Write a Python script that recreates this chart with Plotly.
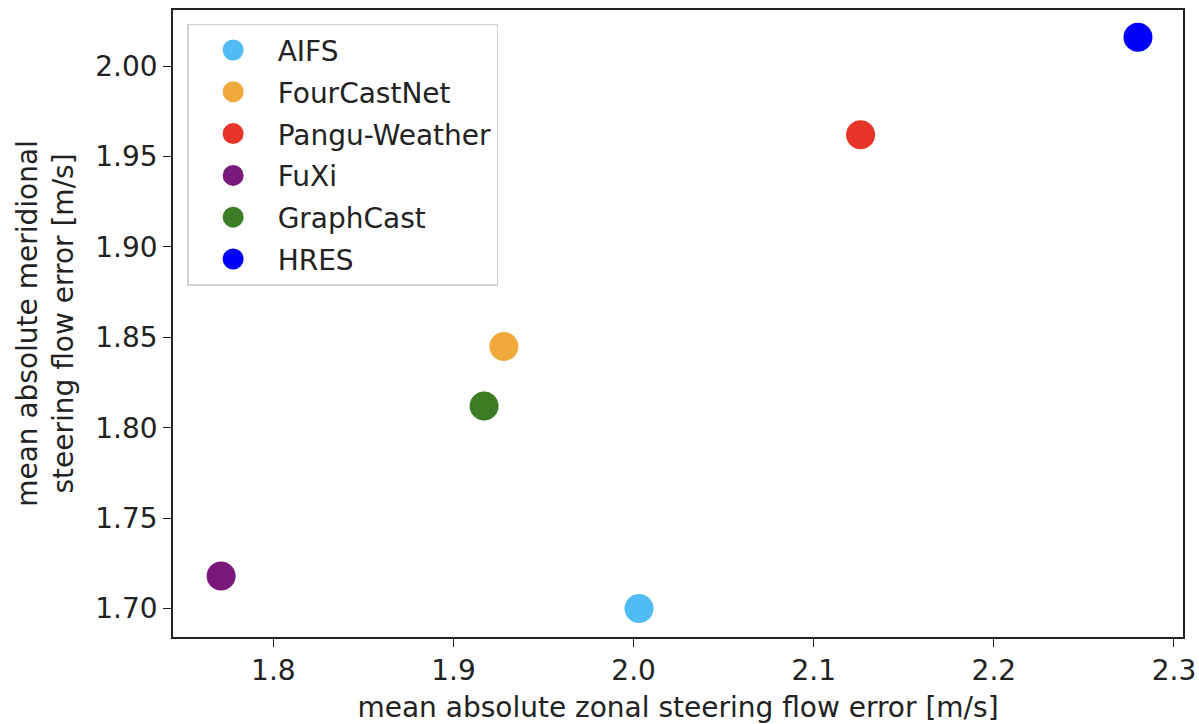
import plotly.graph_objects as go

models = ["AIFS", "FourCastNet", "Pangu-Weather", "FuXi", "GraphCast", "HRES"]
zonal_err = [2.003, 1.928, 2.126, 1.771, 1.917, 2.280]
meridional_err = [1.700, 1.845, 1.962, 1.718, 1.812, 2.016]
colors = ["#4fbcf6", "#f0a93b", "#e8352a", "#7a197c", "#3b7d23", "#0000fc"]

x_ticks = [1.8, 1.9, 2.0, 2.1, 2.2, 2.3]
y_ticks = [1.70, 1.75, 1.80, 1.85, 1.90, 1.95, 2.00]

fig = go.Figure()
for i, m in enumerate(models):
    fig.add_trace(go.Scatter(
        x=[zonal_err[i]], y=[meridional_err[i]], mode="markers", name=m,
        legendgroup=m,
        marker=dict(size=24, color=colors[i], line=dict(color=colors[i], width=5)),
    ))

font = "DejaVu Sans, Arial, sans-serif"
fs = 28
axis_common = dict(
    showline=True, linecolor="#222", linewidth=1.6, mirror=True,
    ticks="outside", ticklen=8, tickwidth=1.4, tickcolor="#222",
    showgrid=False, zeroline=False, automargin=False,
    tickfont=dict(family=font, size=fs, color="#222"),
)
fig.update_xaxes(range=[1.7443, 2.305], tickvals=x_ticks,
                 ticktext=[f"{v:.1f}" for v in x_ticks],
                 title=dict(text="mean absolute zonal steering flow error [m/s]",
                            font=dict(family=font, size=fs, color="#222"), standoff=15),
                 **axis_common)
fig.update_yaxes(range=[1.6843, 2.031], tickvals=y_ticks,
                 ticktext=[f"{v:.2f}" for v in y_ticks],
                 title=dict(text="mean absolute meridional<br>steering flow error [m/s]",
                            font=dict(family=font, size=fs, color="#222"), standoff=13),
                 **axis_common)

fig.update_layout(
    width=1199, height=724,
    margin=dict(l=173, r=16, t=10, b=87),
    plot_bgcolor="white", paper_bgcolor="white",
    font=dict(family=font, size=fs, color="#222"),
    legend=dict(x=0.014, y=0.978, xanchor="left", yanchor="top",
                bgcolor="rgba(255,255,255,0.8)", bordercolor="#d0d0d0", borderwidth=1.5,
                font=dict(family=font, size=fs, color="#222"),
                tracegroupgap=2.4, itemsizing="trace", itemwidth=79),
)

fig.write_html("out.html")
